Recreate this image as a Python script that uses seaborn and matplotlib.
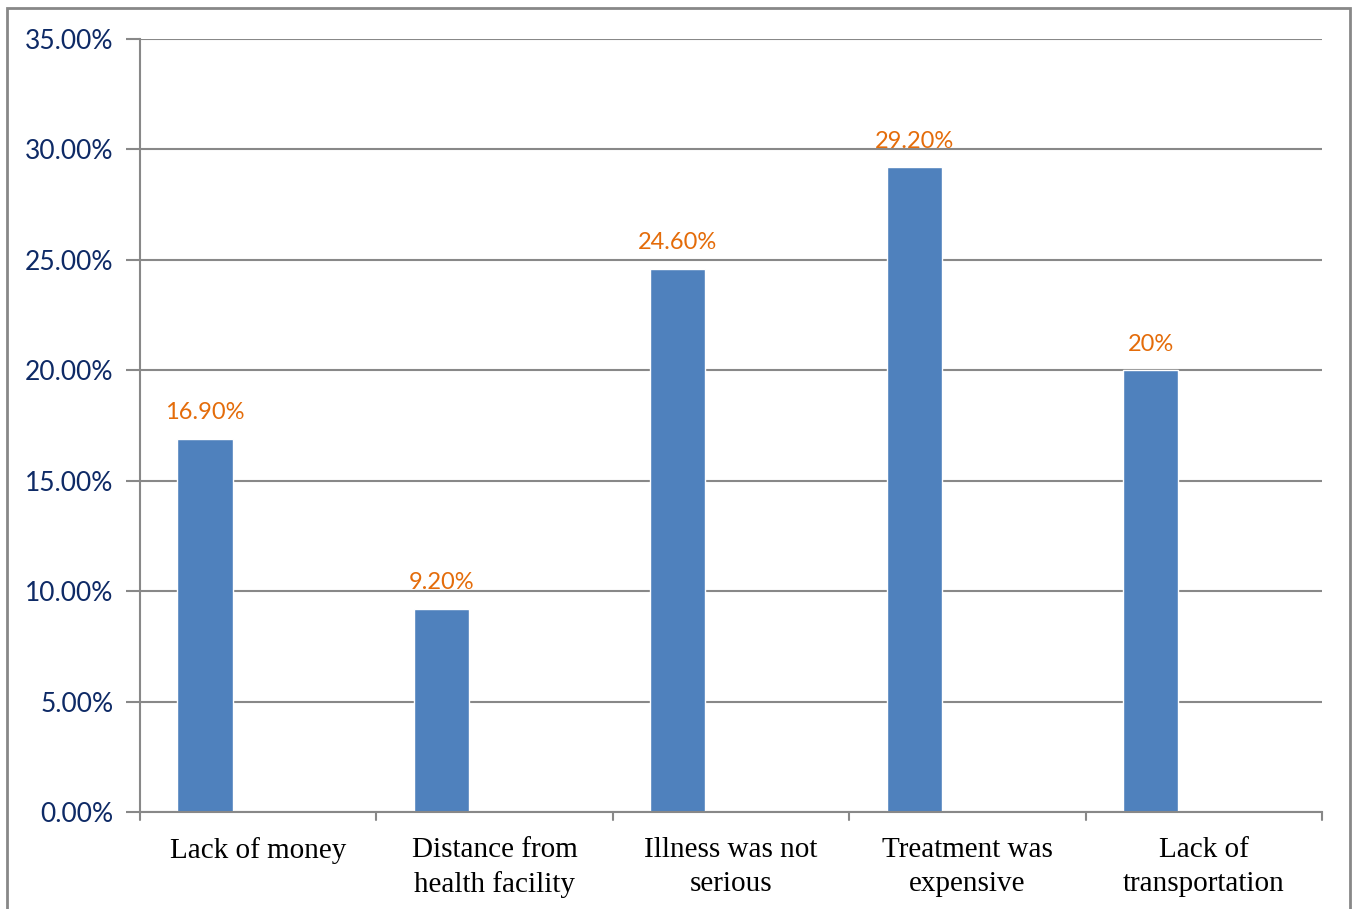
import matplotlib
matplotlib.use("Agg")
import matplotlib.pyplot as plt
import seaborn as sns
import pandas as pd
import numpy as np
from matplotlib.patches import Rectangle

categories = ["Lack of money", "Distance from\nhealth facility", "Illness was not\nserious",
              "Treatment was\nexpensive", "Lack of\ntransportation"]
values = [16.9, 9.2, 24.6, 29.2, 20.0]
value_labels = ["16.90%", "9.20%", "24.60%", "29.20%", "20%"]
yticks = [0, 5, 10, 15, 20, 25, 30, 35]
ytick_labels = ["0.00%", "5.00%", "10.00%", "15.00%", "20.00%", "25.00%", "30.00%", "35.00%"]

df = pd.DataFrame({
    "cat": categories * 2,
    "val": values + [np.nan] * len(values),
    "series": ["A"] * len(values) + ["B"] * len(values),
})

sns.set_style("white")
W, H = 1354, 909
fig = plt.figure(figsize=(W / 100, H / 100), dpi=100)
ax = fig.add_axes([140 / W, 1 - 812 / H, (1322 - 140) / W, (812 - 39) / H])

sns.barplot(data=df, x="cat", y="val", hue="series", hue_order=["A", "B"],
            order=categories, dodge=True, width=0.9, gap=0.48,
            palette={"A": "#4F81BD", "B": "#C0504D"}, legend=False, ax=ax,
            saturation=1, errorbar=None)

ax.set_xlim(-0.5, len(categories) - 0.5)
ax.set_ylim(0, 35)
ax.set_yticks(yticks)
ax.set_yticklabels(ytick_labels, color="#0E2A66", fontsize=19, family="Lato")
ax.set_xticks(range(len(categories)))
ax.set_xticklabels(categories, fontsize=21, family="Liberation Serif", color="black",
                   linespacing=1.38)
ax.tick_params(axis="x", length=0, pad=18)
ax.tick_params(axis="y", length=10, width=1.5, color="#888888", pad=9, direction="out", left=True)
ax.set_xlabel("")
ax.set_ylabel("")

# gridlines
ax.yaxis.grid(True, color="#888888", linewidth=1.5)
ax.set_axisbelow(True)
for s in ["top", "right"]:
    ax.spines[s].set_visible(False)
for s in ["left", "bottom"]:
    ax.spines[s].set_color("#888888")
    ax.spines[s].set_linewidth(1.5)

# category boundary ticks
for b in np.arange(-0.5, len(categories), 1.0):
    ax.plot([b, b], [0, -0.35], color="#888888", lw=1.5, clip_on=False)

# value labels
bars = [p for p in ax.patches if np.isfinite(p.get_height()) and p.get_height() > 0]
bars = sorted(bars, key=lambda p: p.get_x())
for p, lab in zip(bars, value_labels):
    ax.text(p.get_x() + p.get_width() / 2, p.get_height() + 0.7, lab,
            ha="center", va="bottom", color="#E46C0A", fontsize=17, family="Lato")

# outer border
fig.patches.append(Rectangle((7 / W, -0.01), (1350 - 7) / W, 1 - 8 / H + 0.01,
                             transform=fig.transFigure, fill=False,
                             edgecolor="#888888", linewidth=2))

fig.savefig("out.png", dpi=100)
